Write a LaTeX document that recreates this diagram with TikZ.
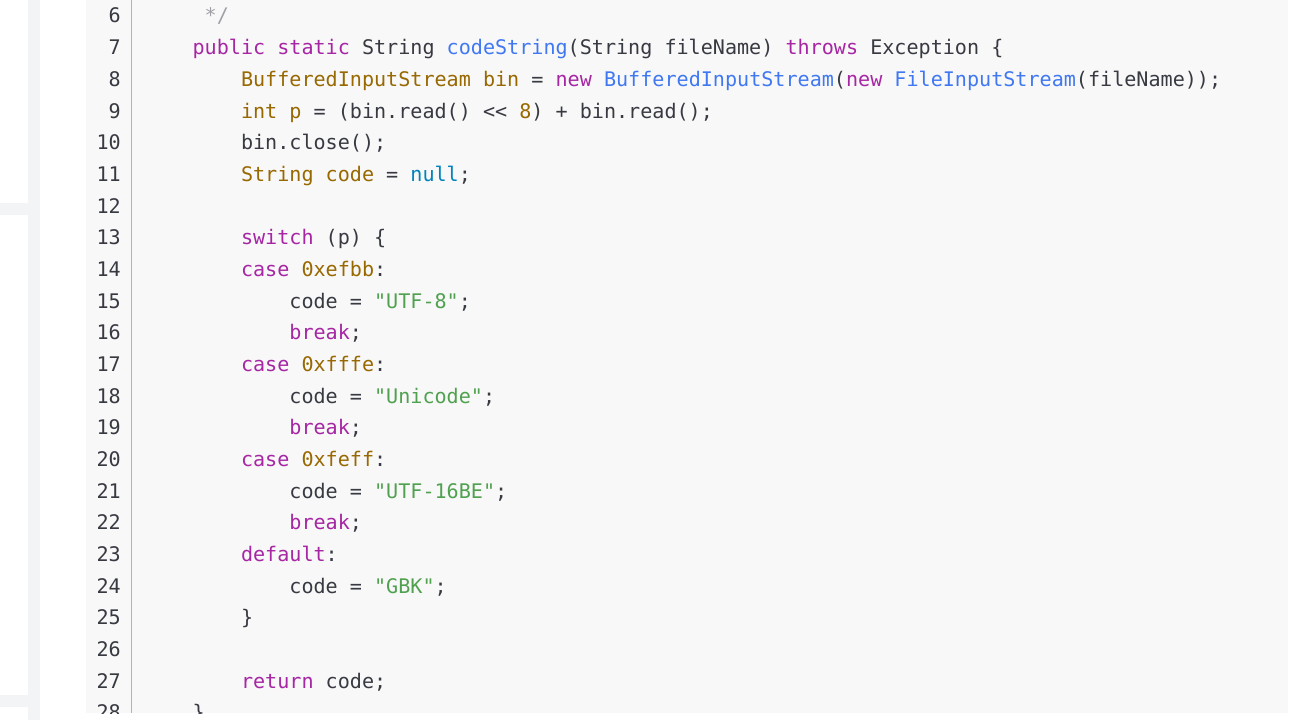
\documentclass[tikz,border=0pt]{standalone}
\usepackage{fontspec}
\setmonofont{DejaVu Sans Mono}
\usetikzlibrary{positioning}
\definecolor{kwc}{HTML}{A626A4}
\definecolor{tyc}{HTML}{986801}
\definecolor{fnc}{HTML}{4078F2}
\definecolor{nuc}{HTML}{0184BC}
\definecolor{stc}{HTML}{50A14F}
\definecolor{txc}{HTML}{383A42}
\definecolor{cmc}{HTML}{A0A1A7}
\definecolor{pagebg}{HTML}{F3F4F6}
\definecolor{codebg}{HTML}{F8F8F8}
\newcommand{\kw}[1]{\textcolor{kwc}{#1}}
\newcommand{\ty}[1]{\textcolor{tyc}{#1}}
\newcommand{\fn}[1]{\textcolor{fnc}{#1}}
\newcommand{\st}[1]{\textcolor{stc}{#1}}
\newcommand{\codeline}[2]{\node[code] (l#1) at (144,{16+31.67*(#1-6)+7}) {#2};}
\tikzset{
  code/.style={anchor=base west, inner sep=0pt, text=txc, font=\fontsize{20.1}{20}\ttfamily},
  lnum/.style={anchor=base east, inner sep=0pt, text=txc, font=\fontsize{20.1}{20}\ttfamily},
}
\begin{document}
\begin{tikzpicture}[x=1pt,y=-1pt]
\useasboundingbox (0,0) rectangle (1314,720);
\fill[pagebg] (0,0) rectangle (1314,720);
% side panel
\fill[white] (0,0) rectangle (28,203);
\fill[white] (0,215) rectangle (28,695);
\fill[white] (0,707) rectangle (28,720);
\fill[white] (40,0) rectangle (1314,720);
\fill[codebg] (86,0) rectangle (1288,713);
\draw[gray!60] (131,0) -- (131,713);
\begin{scope}
\clip (86,0) rectangle (1288,713);
\foreach \n in {6,...,28}
  \node[lnum] (n\n) at (121,{16+31.67*(\n-6)+7}) {\n};
\codeline{6}{\textcolor{cmc}{\ \ \ \ \ */}}
\codeline{7}{\ \ \ \ \kw{public} \kw{static} String \fn{codeString}(String fileName) \kw{throws} Exception \{}
\codeline{8}{\ \ \ \ \ \ \ \ \ty{BufferedInputStream} \ty{bin} = \kw{new} \fn{BufferedInputStream}(\kw{new} \fn{FileInputStream}(fileName));}
\codeline{9}{\ \ \ \ \ \ \ \ \ty{int} \ty{p} = (bin.read() \textless\textless{} \ty{8}) + bin.read();}
\codeline{10}{\ \ \ \ \ \ \ \ bin.close();}
\codeline{11}{\ \ \ \ \ \ \ \ \ty{String} \ty{code} = \textcolor{nuc}{null};}
\codeline{13}{\ \ \ \ \ \ \ \ \kw{switch} (p) \{}
\codeline{14}{\ \ \ \ \ \ \ \ \kw{case} \ty{0xefbb}:}
\codeline{15}{\ \ \ \ \ \ \ \ \ \ \ \ code = \st{"UTF-8"};}
\codeline{16}{\ \ \ \ \ \ \ \ \ \ \ \ \kw{break};}
\codeline{17}{\ \ \ \ \ \ \ \ \kw{case} \ty{0xfffe}:}
\codeline{18}{\ \ \ \ \ \ \ \ \ \ \ \ code = \st{"Unicode"};}
\codeline{19}{\ \ \ \ \ \ \ \ \ \ \ \ \kw{break};}
\codeline{20}{\ \ \ \ \ \ \ \ \kw{case} \ty{0xfeff}:}
\codeline{21}{\ \ \ \ \ \ \ \ \ \ \ \ code = \st{"UTF-16BE"};}
\codeline{22}{\ \ \ \ \ \ \ \ \ \ \ \ \kw{break};}
\codeline{23}{\ \ \ \ \ \ \ \ \kw{default}:}
\codeline{24}{\ \ \ \ \ \ \ \ \ \ \ \ code = \st{"GBK"};}
\codeline{25}{\ \ \ \ \ \ \ \ \}}
\codeline{27}{\ \ \ \ \ \ \ \ \kw{return} code;}
\codeline{28}{\ \ \ \ \}}
\end{scope}
\end{tikzpicture}
\end{document}
